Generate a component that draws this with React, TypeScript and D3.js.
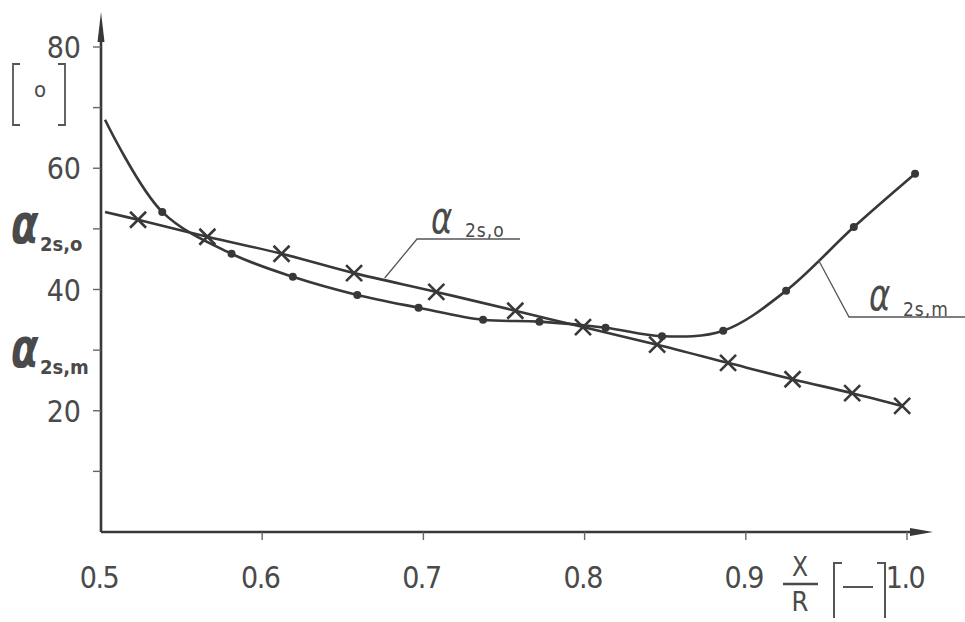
import * as d3 from "d3";

// ── Axis ticks ──────────────────────────────────────────────────────────
const X_TICKS = [0.6, 0.7, 0.8, 0.9, 1.0];
const X_LABELS = ["0.5", "0.6", "0.7", "0.8", "0.9", "1.0"];
const X_LABEL_VALUES = [0.5, 0.6, 0.7, 0.8, 0.9, 1.0];
const Y_TICKS = [10, 20, 30, 40, 50, 60, 70, 80];
const Y_LABELS = [20, 40, 60, 80];

// ── α2s,o (crosses) ────────────────────────────────────────────────────
const O_START = { x: 0.5025, y: 52.8 };
const O_X = [0.523, 0.566, 0.612, 0.657, 0.708, 0.757, 0.799, 0.845, 0.889, 0.929, 0.966, 0.997];
const O_Y = [51.5, 48.7, 45.9, 42.7, 39.6, 36.5, 33.8, 30.9, 27.9, 25.2, 22.9, 20.8];

// ── α2s,m (dots) ───────────────────────────────────────────────────────
const M_START = { x: 0.5025, y: 68.0 };
const M_X = [0.538, 0.581, 0.619, 0.659, 0.697, 0.737, 0.772, 0.813, 0.848, 0.886, 0.925, 0.967, 1.005];
const M_Y = [52.8, 45.9, 42.1, 39.1, 37.0, 35.0, 34.7, 33.7, 32.3, 33.2, 39.8, 50.3, 59.1];

// leader anchors on the curves (data units)
const O_ANCHOR = { x: 0.676, y: 41.9 };
const M_ANCHOR = { x: 0.945, y: 44.9 };

const W = 965;
const H = 622;
const INK = "#383838";
const TEXT = "#4a4a4a";
const FONT = "'Liberation Sans Narrow', 'DejaVu Sans Condensed', 'Roboto Condensed', 'Liberation Sans', sans-serif";

const x = d3.scaleLinear().domain([0.5, 1.0]).range([101, 907]);
const y = d3.scaleLinear().domain([0, 80]).range([532, 47]);

const line = d3
  .line<{ x: number; y: number }>()
  .x((d) => x(d.x))
  .y((d) => y(d.y))
  .curve(d3.curveCatmullRom.alpha(0.5));

interface AlphaProps {
  ax: number;      // left of the α glyph
  ab: number;      // α baseline
  size: number;    // α font size
  sx: number;      // subscript x
  sb: number;      // subscript baseline
  subSize: number;
  sub: string;
  bold?: boolean;
  spacing?: number;
}

function Alpha({ ax, ab, size, sx, sb, subSize, sub, bold, spacing = 0 }: AlphaProps) {
  return (
    <g fill={TEXT}>
      <text
        transform={`translate(${ax},${ab}) scale(1.05,1.45)`}
        fontFamily="'DejaVu Sans', sans-serif"
        fontSize={size}
        fontWeight={bold ? 700 : 400}
        fontStyle="italic"
      >
        α
      </text>
      <text
        x={sx}
        y={sb}
        fontFamily={FONT}
        fontSize={subSize}
        fontWeight={bold ? 700 : 400}
        letterSpacing={spacing}
      >
        {sub}
      </text>
    </g>
  );
}

export default function App() {
  const oPts = [O_START, ...O_X.map((v, i) => ({ x: v, y: O_Y[i] }))];
  const mPts = [M_START, ...M_X.map((v, i) => ({ x: v, y: M_Y[i] }))];
  const x0 = x(0.5);
  const y0 = y(0);

  const oa = { x: x(O_ANCHOR.x), y: y(O_ANCHOR.y) };
  const ma = { x: x(M_ANCHOR.x), y: y(M_ANCHOR.y) };

  return (
    <svg
      width={W}
      height={H}
      viewBox={`0 0 ${W} ${H}`}
      style={{ position: "absolute", left: 0, top: 0, background: "#fff" }}
    >
      {/* ── axes ── */}
      <line x1={x0} x2={x0} y1={y0} y2={40} stroke={INK} strokeWidth={2.6} />
      <path d={`M${x0 - 3.5},42 L${x0},12 L${x0 + 3.5},42 Z`} fill={INK} />
      <line x1={x0} x2={912} y1={y0} y2={y0} stroke={INK} strokeWidth={2.4} />
      <path d={`M910,${y0 - 4} L933,${y0} L910,${y0 + 4} Z`} fill={INK} />

      {Y_TICKS.map((t) => (
        <line key={t} x1={x0 - 8} x2={x0} y1={y(t)} y2={y(t)} stroke="#666" strokeWidth={1.4} />
      ))}
      {X_TICKS.map((t) => (
        <line key={t} x1={x(t)} x2={x(t)} y1={y0} y2={y0 + 8} stroke="#666" strokeWidth={1.4} />
      ))}

      <g fontFamily={FONT} fontSize={30} fill={TEXT}>
        {Y_LABELS.map((t) => (
          <text key={t} x={81} y={y(t) + 11} textAnchor="end">
            {t}
          </text>
        ))}
        {X_LABELS.map((t, i) => (
          <text key={t} x={x(X_LABEL_VALUES[i]) - 2} y={588} textAnchor="middle" letterSpacing={-1.5}>
            {t}
          </text>
        ))}
      </g>

      {/* ── unit [ ° ] ── */}
      <g stroke="#555" strokeWidth={1.8} fill="none">
        <path d="M20,64 H13 V125 H20" />
        <path d="M58,64 H65 V125 H58" />
      </g>
      <text x={40} y={97} fontFamily={FONT} fontSize={22} fill={TEXT} textAnchor="middle">
        o
      </text>

      {/* ── left axis symbols ── */}
      <Alpha ax={11} ab={243} size={38} sx={40} sb={251} subSize={20} sub="2s,o" bold />
      <Alpha ax={11} ab={367} size={38} sx={40} sb={374} subSize={20} sub="2s,m" bold />

      {/* ── X/R [–] ── */}
      <g fontFamily={FONT} fill={TEXT}>
        <text x={800} y={576} fontSize={26} textAnchor="middle">
          X
        </text>
        <text x={800} y={611} fontSize={27} textAnchor="middle">
          R
        </text>
      </g>
      <line x1={783} x2={818} y1={584} y2={584} stroke={TEXT} strokeWidth={2.4} />
      <g stroke="#555" strokeWidth={2} fill="none">
        <path d="M842,563 H834 V618" />
        <path d="M877,563 H885 V618" />
        <path d="M843,587 H873" />
      </g>

      {/* ── curves ── */}
      <path d={line(oPts) ?? ""} fill="none" stroke={INK} strokeWidth={2.6} />
      <path d={line(mPts) ?? ""} fill="none" stroke={INK} strokeWidth={2.6} />

      {O_X.map((v, i) => {
        const cx = x(v);
        const cy = y(O_Y[i]);
        const s = 8;
        return (
          <path
            key={i}
            d={`M${cx - s},${cy - s} L${cx + s},${cy + s} M${cx - s},${cy + s} L${cx + s},${cy - s}`}
            stroke={INK}
            strokeWidth={2.6}
          />
        );
      })}
      {M_X.map((v, i) => (
        <circle key={i} cx={x(v)} cy={y(M_Y[i])} r={4} fill={INK} />
      ))}

      {/* ── callouts ── */}
      <g stroke="#555" strokeWidth={1.3} fill="none">
        <path d={`M${oa.x},${oa.y} L417,239 H520`} />
        <path d={`M${ma.x},${ma.y} L849,317 H965`} />
      </g>
      <Alpha ax={431} ab={233} size={31} sx={465} sb={237} subSize={19} sub="2s,o" spacing={1} />
      <Alpha ax={869} ab={310} size={31} sx={903} sb={316} subSize={19} sub="2s,m" spacing={1} />
    </svg>
  );
}
